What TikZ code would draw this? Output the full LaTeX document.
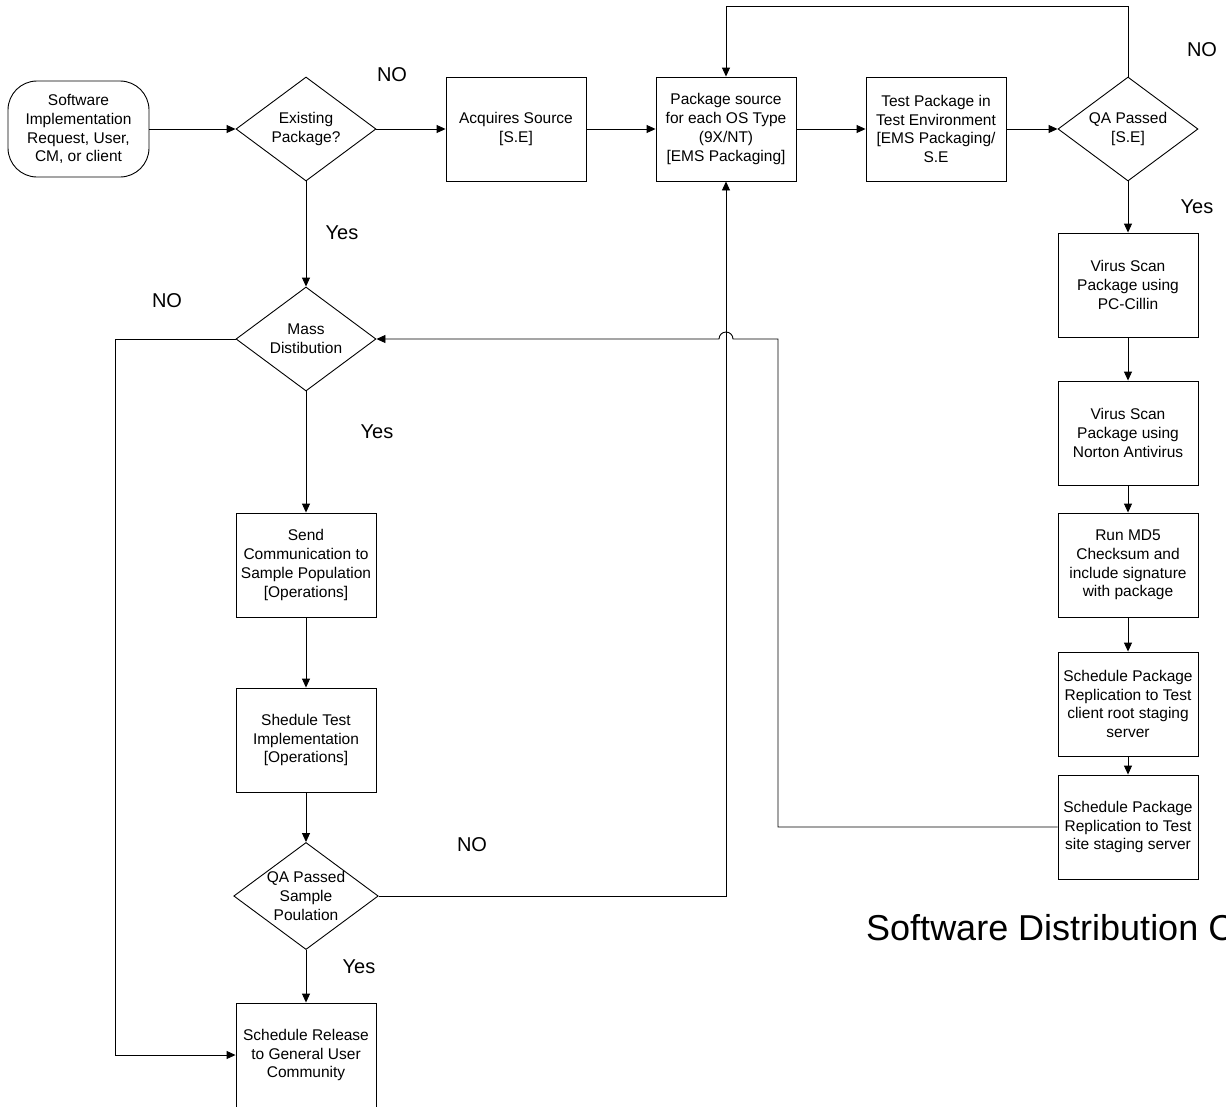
\documentclass[tikz,border=0pt]{standalone}
\usepackage{fontspec}
\setmainfont{Liberation Sans}
\usetikzlibrary{shapes.geometric, arrows.meta}

\newcommand{\boxfont}{\fontsize{15.5pt}{18.8pt}\selectfont}
\newcommand{\answerfont}{\fontsize{20pt}{24pt}\selectfont}
\newcommand{\titlefont}{\fontsize{36pt}{42pt}\selectfont}

\tikzstyle{startstop} = [rectangle, rounded corners=29pt, minimum width=141pt, minimum height=96pt, inner sep=2pt, align=center, draw=black, line width=0.9pt, font=\boxfont]
\tikzstyle{process} = [rectangle, minimum width=140pt, minimum height=104pt, inner sep=2pt, align=center, draw=black, line width=0.9pt, font=\boxfont]
\tikzstyle{decision} = [diamond, aspect=1.35, minimum width=140pt, minimum height=104pt, inner sep=0pt, align=center, draw=black, line width=0.9pt, font=\boxfont]
\tikzstyle{answer} = [inner sep=0pt, font=\answerfont]
\tikzstyle{arrow} = [line width=0.9pt, ->, >={Triangle[length=9pt, width=8pt]}]

\begin{document}
\begin{tikzpicture}[x=1pt, y=-1pt, node distance=210pt]
        \useasboundingbox (0,0) rectangle (1226,1106);
        \clip (0,0) rectangle (1226,1106);

        % top row
        \node (request) [startstop] at (78.5,129) {Software\\Implementation\\Request, User,\\CM, or client};
        \node (existing) [decision, right of=request, xshift=17.5pt] {Existing\\Package?};
        \node (acquire) [process, right of=existing] {Acquires Source\\{[S.E]}};
        \node (pkgsource) [process, right of=acquire] {Package source\\for each OS Type\\(9X/NT)\\{[EMS Packaging]}};
        \node (testpkg) [process, right of=pkgsource] {Test Package in\\Test Environment\\{[EMS Packaging/}\\S.E};
        \node (qapassed) [decision, right of=testpkg, xshift=-18pt] {QA Passed\\{[S.E]}};

        % right column
        \node (pccillin) [process, below of=qapassed, yshift=54pt] {Virus Scan\\Package using\\PC-Cillin};
        \node (norton) [process, below of=pccillin, yshift=62pt] {Virus Scan\\Package using\\Norton Antivirus};
        \node (md5) [process, below of=norton, yshift=78pt] {Run MD5\\Checksum and\\include signature\\with package};
        \node (rootstage) [process, below of=md5, yshift=71pt] {Schedule Package\\Replication to Test\\client root staging\\server};
        \node (sitestage) [process, below of=rootstage, yshift=87pt] {Schedule Package\\Replication to Test\\site staging server};

        % left column
        \node (mass) [decision, below of=existing] {Mass\\Distibution};
        \node (sendcomm) [process, below of=mass, yshift=-16pt] {Send\\Communication to\\Sample Population\\{[Operations]}};
        \node (testimpl) [process, below of=sendcomm, yshift=35pt] {Shedule Test\\Implementation\\{[Operations]}};
        \node (qasample) [decision, below of=testimpl, yshift=54pt] {QA Passed\\Sample\\Poulation};
        \node (release) [process, below of=qasample, yshift=51pt] {Schedule Release\\to General User\\Community};

        % answers
        \node (noExisting) [answer] at (392,75) {NO};
        \node (yesExisting) [answer] at (342,233) {Yes};
        \node (noQa) [answer] at (1202,50) {NO};
        \node (yesQa) [answer] at (1197,207) {Yes};
        \node (noMass) [answer] at (167,301) {NO};
        \node (yesMass) [answer] at (377,432) {Yes};
        \node (noSample) [answer] at (472,845) {NO};
        \node (yesSample) [answer] at (359,967) {Yes};

        \node (title) [anchor=west, inner sep=0pt, font=\titlefont] at (866,931) {Software Distribution Cycle};

        \coordinate (loopTop) at (0,6);
        \coordinate (leftX) at (115,0);
        \coordinate (returnX) at (778,0);

        \draw[arrow] (request) -- (existing);
        \draw[arrow] (existing) -- (acquire);
        \draw[arrow] (acquire) -- (pkgsource);
        \draw[arrow] (pkgsource) -- (testpkg);
        \draw[arrow] (testpkg) -- (qapassed);
        \draw[arrow] (qapassed.north) -- (qapassed.north |- loopTop) -| (pkgsource.north);

        \draw[arrow] (qapassed) -- (pccillin);
        \draw[arrow] (pccillin) -- (norton);
        \draw[arrow] (norton) -- (md5);
        \draw[arrow] (md5) -- (rootstage);
        \draw[arrow] (rootstage) -- (sitestage);
        \draw[arrow] (sitestage.west) -| (returnX |- mass.east) -- ([xshift=7pt]pkgsource.south |- mass.east) arc[start angle=0, end angle=180, radius=7pt] -- (mass.east);

        \draw[arrow] (existing) -- (mass);
        \draw[arrow] (mass.west) -| (leftX |- release.west) -- (release.west);
        \draw[arrow] (mass) -- (sendcomm);
        \draw[arrow] (sendcomm) -- (testimpl);
        \draw[arrow] (testimpl) -- (qasample);
        \draw[arrow] (qasample) -- (release);
        \draw[arrow] (qasample.east) -| (pkgsource.south);

    \end{tikzpicture}
\end{document}
